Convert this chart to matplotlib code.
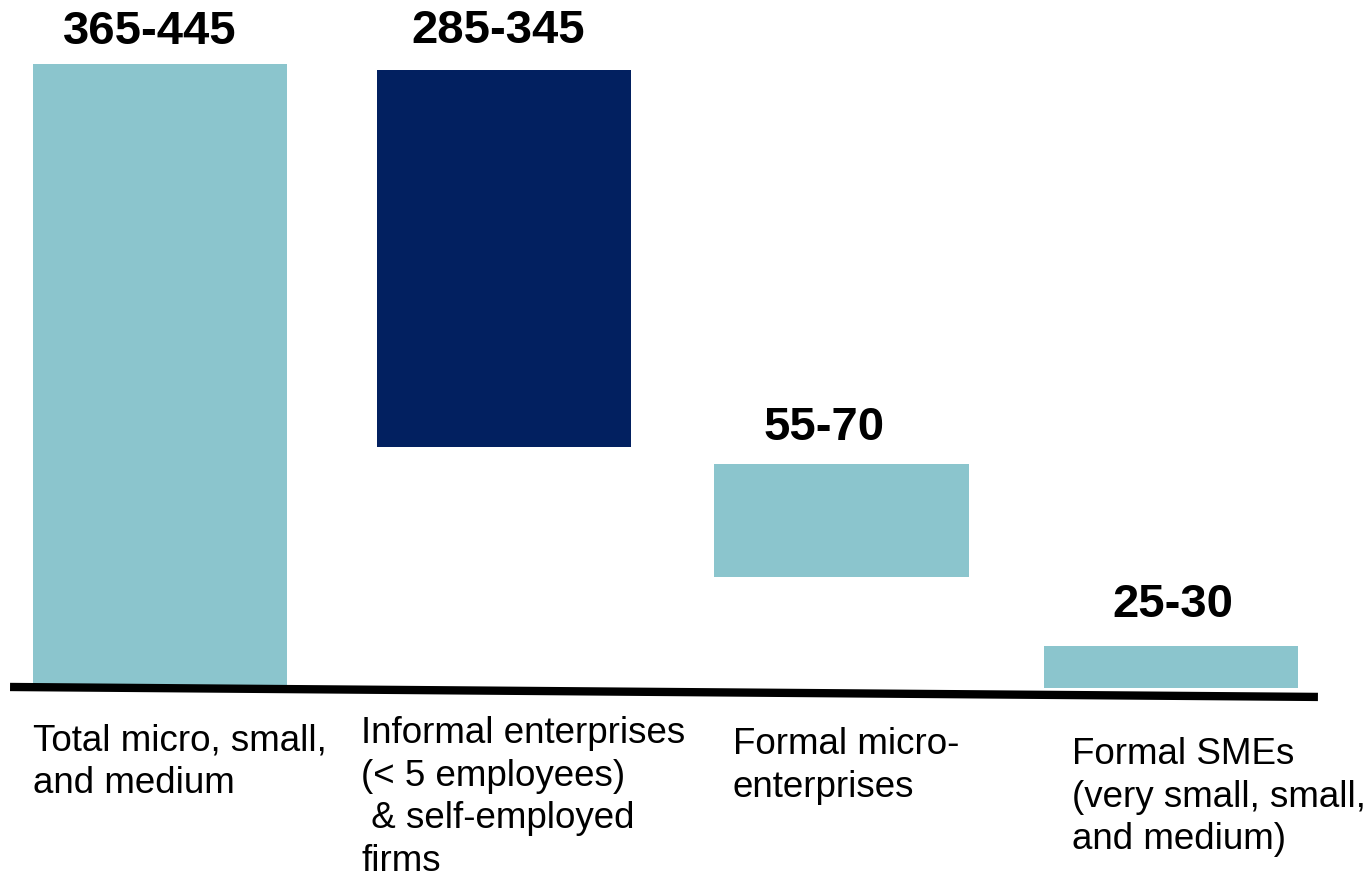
import matplotlib.pyplot as plt
import numpy as np

# Enterprise counts (millions) - waterfall of the total into its parts
categories = ['Total micro, small,\nand medium',
              'Informal enterprises\n(< 5 employees)\n & self-employed\nfirms',
              'Formal micro-\nenterprises',
              'Formal SMEs\n(very small, small,\nand medium)']
range_labels = ['365-445', '285-345', '55-70', '25-30']
bar_bottom = [0, 172, 79, 0]
bar_top = [445, 441, 160, 30]

teal = '#8BC5CD'
navy = '#022060'
colors = [teal, navy, teal, teal]

plt.rcParams['font.family'] = ['Liberation Sans', 'DejaVu Sans']

fig = plt.figure(figsize=(13.71, 8.82), dpi=100)
ax = fig.add_axes([0, 0, 1, 1])

# bar centres are not quite evenly spaced
x = np.array([0, 1.021, 2.022, 3.0])
heights = np.array(bar_top) - np.array(bar_bottom)
ax.bar(x, heights, bottom=bar_bottom, width=0.755, color=colors, zorder=2)

# range labels above each bar
label_dx = [-10, -6, -17, 2]
label_gap = [10, 17, 14, 19]
for i in range(len(x)):
    ax.annotate(range_labels[i], (x[i], bar_top[i]), xytext=(label_dx[i], label_gap[i]),
                textcoords='offset pixels', ha='center', va='bottom',
                fontsize=34, fontweight='bold')

# category names under the baseline
name_dx = [-0.377, -0.424, -0.323, -0.294]
name_y = [-25, -20, -28, -35]
for i in range(len(x)):
    ax.text(x[i] + name_dx[i], name_y[i], categories[i],
            ha='left', va='top', fontsize=26.5, linespacing=1.28)

# baseline (slightly tilted)
ax.plot([-0.445, 3.436], [0.7, -6.4], color='black', lw=6, solid_capstyle='butt', zorder=3)

ax.set_xlim(-160 / 337, (1371 - 160) / 337)
ax.set_ylim(-138.4, 490.7)
ax.axis('off')

fig.savefig('out.png', dpi=100)
